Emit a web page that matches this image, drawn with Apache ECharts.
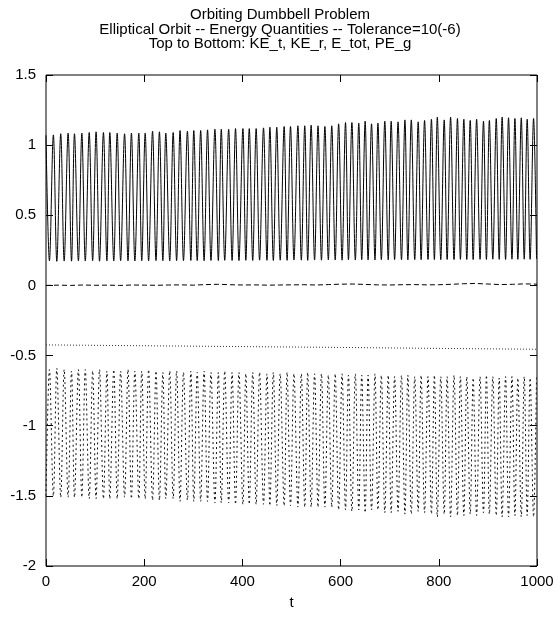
<!DOCTYPE html>
<html>
<head>
<meta charset="utf-8">
<script src="https://cdn.jsdelivr.net/npm/echarts@6/dist/echarts.min.js"></script>
<style>html,body{margin:0;padding:0;background:#fff}#c{width:560px;height:617px}</style>
</head>
<body>
<div id="c"></div>
<script>
// ---- data ----
const titleLines = ["Orbiting Dumbbell Problem", "Elliptical Orbit -- Energy Quantities -- Tolerance=10(-6)", "Top to Bottom: KE_t, KE_r, E_tot, PE_g"];
const xTicks = [0, 200, 400, 600, 800, 1000];
const yTicks = [-2, -1.5, -1, -0.5, 0, 0.5, 1, 1.5];

const keTStart = 1.07;
const peStart = -1.50;

const peakT = [15,30,45,58,73,88,102,117,130,145,
  160,174,189,202,217,231,244,259,273,288,
  301,315,329,344,357,372,386,401,414,428,
  443,456,470,485,498,513,527,540,554,568,
  582,596,610,623,637,650,663,676,690,703,
  717,731,744,758,771,785,797,811,824,838,
  851,864,877,891,903,917,929,942,955,968,
  980,993];

const troughT = [7,22,37,52,66,80,95,109,124,138,
  152,167,181,195,209,224,238,252,266,280,
  295,308,322,336,351,364,379,393,407,421,
  435,450,463,477,491,505,520,533,547,561,
  575,589,603,616,630,643,656,670,683,697,
  710,724,737,751,764,778,791,804,817,831,
  844,857,870,884,897,910,923,936,949,961,
  974,986,999];

const keTPeak = [1.073,1.081,1.086,1.081,1.086,1.090,1.095,1.090,1.090,1.086,
  1.081,1.086,1.086,1.086,1.100,1.095,1.086,1.090,1.104,1.100,
  1.104,1.104,1.109,1.114,1.114,1.114,1.118,1.118,1.118,1.118,
  1.123,1.128,1.128,1.133,1.133,1.138,1.138,1.143,1.138,1.133,
  1.138,1.152,1.161,1.161,1.157,1.171,1.152,1.157,1.171,1.171,
  1.166,1.180,1.180,1.166,1.176,1.185,1.200,1.180,1.200,1.190,
  1.185,1.176,1.185,1.171,1.176,1.190,1.200,1.195,1.190,1.195,
  1.185,1.190];

const keTTrough = [0.175,0.172,0.174,0.173,0.175,0.174,0.176,0.173,0.175,0.174,
  0.176,0.175,0.174,0.176,0.175,0.177,0.176,0.175,0.177,0.176,
  0.178,0.177,0.176,0.178,0.177,0.179,0.178,0.177,0.179,0.178,
  0.180,0.179,0.178,0.180,0.179,0.181,0.180,0.179,0.181,0.180,
  0.182,0.181,0.180,0.182,0.181,0.183,0.182,0.181,0.183,0.182,
  0.184,0.183,0.182,0.184,0.183,0.185,0.184,0.183,0.185,0.184,
  0.186,0.185,0.184,0.186,0.185,0.187,0.186,0.185,0.187,0.186,
  0.187,0.186,0.188];

const peBottom = [-1.50,-1.51,-1.51,-1.51,-1.51,-1.52,-1.52,-1.52,-1.52,-1.52,
  -1.51,-1.52,-1.52,-1.52,-1.53,-1.53,-1.52,-1.52,-1.54,-1.53,
  -1.54,-1.54,-1.54,-1.55,-1.55,-1.55,-1.56,-1.56,-1.56,-1.56,
  -1.56,-1.57,-1.57,-1.57,-1.57,-1.58,-1.58,-1.58,-1.58,-1.58,
  -1.58,-1.60,-1.60,-1.61,-1.60,-1.62,-1.60,-1.60,-1.62,-1.62,
  -1.61,-1.63,-1.63,-1.61,-1.62,-1.63,-1.65,-1.63,-1.65,-1.64,
  -1.64,-1.63,-1.64,-1.62,-1.63,-1.64,-1.65,-1.65,-1.64,-1.65,
  -1.64,-1.65];

const peTop = [-0.60,-0.59,-0.60,-0.61,-0.60,-0.60,-0.61,-0.60,-0.61,-0.60,
  -0.61,-0.60,-0.61,-0.61,-0.60,-0.61,-0.62,-0.61,-0.61,-0.62,
  -0.61,-0.62,-0.61,-0.62,-0.62,-0.61,-0.62,-0.62,-0.63,-0.62,
  -0.62,-0.63,-0.62,-0.63,-0.62,-0.63,-0.63,-0.62,-0.63,-0.63,
  -0.64,-0.63,-0.63,-0.64,-0.63,-0.64,-0.64,-0.63,-0.64,-0.64,
  -0.65,-0.64,-0.64,-0.65,-0.64,-0.65,-0.64,-0.65,-0.65,-0.64,
  -0.65,-0.65,-0.66,-0.65,-0.64,-0.65,-0.66,-0.65,-0.65,-0.66,
  -0.65,-0.66,-0.65];

const keRT = [0,25,50,75,100,125,150,175,200,225,250,275,300,325,350,375,400,425,450,475,
  500,525,550,575,600,625,650,675,700,725,750,775,800,825,850,875,900,925,950,975,1000];
const keR = [0.000,0.002,0.000,0.003,0.001,0.002,0.000,0.003,0.002,0.001,
  0.003,0.004,0.002,0.006,0.008,0.005,0.003,0.004,0.002,0.003,
  0.004,0.005,0.003,0.006,0.009,0.010,0.007,0.004,0.003,0.005,
  0.006,0.004,0.005,0.008,0.012,0.014,0.010,0.006,0.008,0.011,0.009];

const eTotT = [0, 200, 400, 600, 800, 1000];
const eTot = [-0.424, -0.430, -0.436, -0.442, -0.449, -0.455];

// ---- build series data ----
function osc(startV, lowT, lowV, highT, highV) {
  const d = [[0, startV]];
  for (let k = 0; k < highT.length; k++) {
    d.push([lowT[k], lowV[k]]);
    d.push([highT[k], highV[k]]);
  }
  for (let k = highT.length; k < lowT.length; k++) d.push([lowT[k], lowV[k]]);
  return d;
}
const keTData = osc(keTStart, troughT, keTTrough, peakT, keTPeak);
const peData = osc(peStart, troughT, peTop, peakT, peBottom);
const keRData = keRT.map((t, i) => [t, keR[i]]);
const eTotData = eTotT.map((t, i) => [t, eTot[i]]);

const font = "'Liberation Sans', Arial, sans-serif";
const chart = echarts.init(document.getElementById('c'), null, {renderer: 'canvas'});
const tick = {show: true, inside: true, length: 7, lineStyle: {color: '#000', width: 1}};
const xCommon = {type: 'value', min: xTicks[0], max: xTicks[xTicks.length-1], interval: 200,
  splitLine: {show: false}, axisLine: {show: false, onZero: false}, axisTick: tick};
const yCommon = {type: 'value', min: yTicks[0], max: yTicks[yTicks.length-1], interval: 0.5,
  splitLine: {show: false}, axisLine: {show: false, onZero: false}, axisTick: tick};

chart.setOption({
  animation: false,
  backgroundColor: '#fff',
  title: {
    text: titleLines.join('\n'),
    left: 'center',
    top: 3,
    textStyle: {fontFamily: font, fontSize: 15, fontWeight: 'normal', color: '#000', lineHeight: 14.5}
  },
  grid: {left: 46, right: 23, top: 75, bottom: 51, show: true, borderColor: '#000', borderWidth: 1, backgroundColor: 'transparent'},
  xAxis: [
    Object.assign({}, xCommon, {position: 'bottom', name: 't', nameLocation: 'middle', nameGap: 29,
      nameTextStyle: {fontFamily: font, fontSize: 15, color: '#000'},
      axisLabel: {margin: 8, fontFamily: font, fontSize: 15, color: '#000', formatter: v => String(v)}}),
    Object.assign({}, xCommon, {position: 'top', axisLabel: {show: false}})
  ],
  yAxis: [
    Object.assign({}, yCommon, {position: 'left',
      axisLabel: {margin: 10, fontFamily: font, fontSize: 15, color: '#000', formatter: v => String(v)}}),
    Object.assign({}, yCommon, {position: 'right', axisLabel: {show: false}})
  ],
  series: [
    {name: 'KE_t', type: 'line', data: keTData, showSymbol: false, symbol: 'none', smooth: 0.35,
      lineStyle: {color: '#000', width: 1}},
    {name: 'KE_r', type: 'line', data: keRData, showSymbol: false, symbol: 'none',
      lineStyle: {color: '#000', width: 1, type: [5, 3]}},
    {name: 'E_tot', type: 'line', data: eTotData, showSymbol: false, symbol: 'none',
      lineStyle: {color: '#333', width: 1, type: [1, 2]}},
    {name: 'PE_g', type: 'line', data: peData, showSymbol: false, symbol: 'none', smooth: 0.35,
      lineStyle: {color: '#111', width: 1, type: [2, 3]}}
  ]
});
</script>
</body>
</html>
